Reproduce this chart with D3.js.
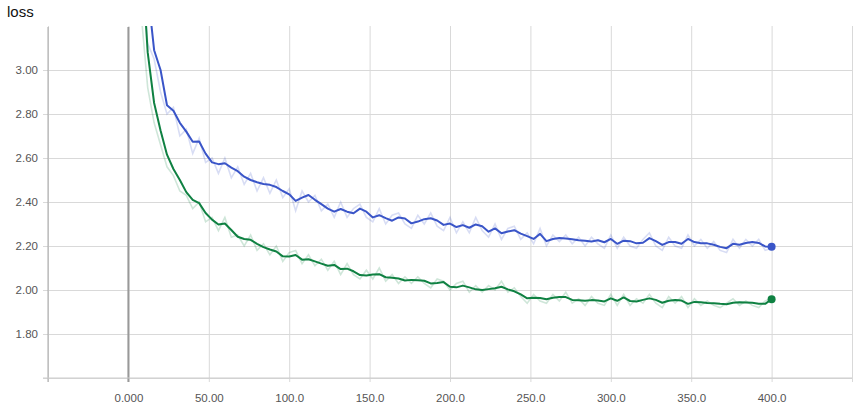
<!DOCTYPE html>
<html><head><meta charset="utf-8">
<script src="https://cdn.jsdelivr.net/npm/d3@7"></script>
<style>
body{margin:0;background:#fff;}
svg{display:block;font-family:"Liberation Sans",Arial,Helvetica,sans-serif;}
</style></head>
<body><svg id="chart" width="863" height="404"></svg>
<script>
const title = "loss";
const steps = [4,8,12,16,20,24,28,32,36,40,44,48,52,56,60,64,68,72,76,80,84,88,92,96,100,104,108,112,116,120,124,128,132,136,140,144,148,152,156,160,164,168,172,176,180,184,188,192,196,200,204,208,212,216,220,224,228,232,236,240,244,248,252,256,260,264,268,272,276,280,284,288,292,296,300,304,308,312,316,320,324,328,332,336,340,344,348,352,356,360,364,368,372,376,380,384,388,392,396,400];
const blueSmooth = [4.60,3.85,3.36,3.09,3.00,2.84,2.815,2.76,2.72,2.674,2.675,2.62,2.58,2.572,2.576,2.556,2.54,2.515,2.50,2.49,2.482,2.478,2.468,2.45,2.435,2.405,2.42,2.432,2.41,2.39,2.37,2.356,2.368,2.356,2.349,2.37,2.356,2.33,2.34,2.327,2.315,2.33,2.325,2.303,2.311,2.322,2.326,2.316,2.296,2.302,2.286,2.295,2.283,2.298,2.29,2.265,2.28,2.258,2.266,2.272,2.256,2.245,2.232,2.255,2.222,2.232,2.236,2.234,2.231,2.226,2.224,2.22,2.226,2.217,2.232,2.21,2.224,2.222,2.212,2.215,2.236,2.222,2.205,2.218,2.218,2.21,2.232,2.218,2.213,2.212,2.206,2.196,2.19,2.21,2.206,2.214,2.218,2.214,2.198,2.197];
const blueRaw = [4.3,3.5,3.12,3.05,2.90,2.80,2.83,2.70,2.73,2.62,2.69,2.58,2.60,2.53,2.60,2.51,2.56,2.48,2.53,2.45,2.51,2.44,2.50,2.42,2.46,2.36,2.45,2.40,2.43,2.36,2.39,2.33,2.40,2.33,2.37,2.39,2.33,2.31,2.37,2.30,2.34,2.35,2.30,2.28,2.34,2.30,2.35,2.29,2.27,2.33,2.26,2.31,2.26,2.33,2.27,2.24,2.30,2.23,2.28,2.29,2.23,2.26,2.21,2.28,2.20,2.25,2.22,2.25,2.21,2.24,2.20,2.24,2.21,2.19,2.25,2.19,2.24,2.20,2.19,2.23,2.26,2.20,2.18,2.24,2.20,2.19,2.25,2.20,2.23,2.19,2.22,2.18,2.17,2.23,2.19,2.23,2.20,2.23,2.18,2.19];
const greenSmooth = [4.40,3.55,3.08,2.85,2.725,2.615,2.55,2.50,2.445,2.41,2.395,2.35,2.32,2.298,2.302,2.273,2.242,2.232,2.228,2.21,2.195,2.184,2.175,2.153,2.152,2.159,2.138,2.14,2.13,2.12,2.11,2.114,2.095,2.097,2.085,2.068,2.066,2.07,2.072,2.058,2.056,2.052,2.043,2.046,2.044,2.042,2.03,2.032,2.036,2.015,2.012,2.02,2.012,2.003,2.0,2.004,2.008,2.015,2.003,1.994,1.98,1.962,1.965,1.964,1.958,1.965,1.968,1.968,1.955,1.953,1.951,1.954,1.952,1.948,1.962,1.951,1.966,1.95,1.948,1.955,1.962,1.955,1.942,1.951,1.955,1.952,1.937,1.946,1.944,1.941,1.94,1.937,1.935,1.942,1.944,1.943,1.942,1.938,1.937,1.958];
const greenRaw = [4.1,3.25,2.92,2.76,2.66,2.56,2.52,2.45,2.43,2.37,2.40,2.31,2.33,2.27,2.33,2.24,2.25,2.20,2.25,2.18,2.21,2.16,2.20,2.13,2.17,2.18,2.12,2.16,2.11,2.14,2.09,2.13,2.07,2.12,2.07,2.05,2.09,2.05,2.10,2.04,2.07,2.03,2.06,2.03,2.06,2.03,2.01,2.05,2.04,2.00,2.03,2.04,1.99,2.02,1.99,2.02,2.00,2.04,1.99,2.01,1.97,1.94,1.98,1.95,1.94,1.98,1.95,1.99,1.94,1.96,1.93,1.97,1.94,1.93,1.98,1.93,1.98,1.93,1.96,1.94,1.98,1.94,1.92,1.97,1.94,1.97,1.92,1.96,1.93,1.95,1.93,1.92,1.94,1.96,1.93,1.95,1.93,1.92,1.95,1.96];
const xTicks = [-50,0,50,100,150,200,250,300,350,400,450];
const xTickLabels = ["","0.000","50.00","100.0","150.0","200.0","250.0","300.0","350.0","400.0",""];
const yTicks = [1.6,1.8,2.0,2.2,2.4,2.6,2.8,3.0];
const yTickLabels = ["","1.80","2.00","2.20","2.40","2.60","2.80","3.00"];

const blueColor = "#3a55c8", greenColor = "#0f8142";
const L = 48, R = 852, T = 26, B = 378;
const svg = d3.select("#chart");
const x = d3.scaleLinear().domain([-50,450]).range([L,R]);
const y = d3.scaleLinear().domain([1.6,3.2]).range([B,T]);

svg.append("text").attr("x",7).attr("y",17).attr("font-size",15).attr("fill","#111").text(title);

const gx = svg.append("g").attr("transform",`translate(0,${B})`)
  .call(d3.axisBottom(x).tickValues(xTicks).tickSize(-(B-T)).tickSizeOuter(0)
    .tickFormat((d,i)=>xTickLabels[i]));
gx.select(".domain").remove();
gx.selectAll(".tick line").attr("stroke","#d9d9d9").attr("y2",-(B-T)).attr("y1",4);
gx.selectAll(".tick text").attr("y",16).attr("font-size",11.5).attr("fill","#555").attr("font-family","Liberation Sans, Arial, sans-serif");

const gy = svg.append("g").attr("transform",`translate(${L},0)`)
  .call(d3.axisLeft(y).tickValues(yTicks).tickSize(-(R-L)).tickSizeOuter(0)
    .tickFormat((d,i)=>yTickLabels[i]));
gy.select(".domain").remove();
gy.selectAll(".tick line").attr("stroke","#d9d9d9").attr("x1",-5);
gy.selectAll(".tick text").attr("x",-10).attr("font-size",11.5).attr("fill","#555").attr("font-family","Liberation Sans, Arial, sans-serif");

svg.append("line").attr("x1",x(-50)).attr("x2",x(-50)).attr("y1",T+1).attr("y2",B+4).attr("stroke","#a8a8a8").attr("stroke-width",1);
svg.append("line").attr("x1",x(0)).attr("x2",x(0)).attr("y1",T+1).attr("y2",B+4).attr("stroke","#999").attr("stroke-width",2);
svg.append("line").attr("x1",L-5).attr("x2",R).attr("y1",B).attr("y2",B).attr("stroke","#ccc");

svg.append("clipPath").attr("id","clip").append("rect").attr("x",L).attr("y",T).attr("width",R-L).attr("height",B-T);
const plot = svg.append("g").attr("clip-path","url(#clip)");
const line = d3.line().x((d,i)=>x(steps[i])).y(d=>y(d));

plot.append("path").attr("d",line(greenRaw)).attr("fill","none").attr("stroke",greenColor).attr("stroke-opacity",0.2).attr("stroke-width",1.6);
plot.append("path").attr("d",line(blueRaw)).attr("fill","none").attr("stroke",blueColor).attr("stroke-opacity",0.2).attr("stroke-width",1.6);
plot.append("path").attr("d",line(greenSmooth)).attr("fill","none").attr("stroke",greenColor).attr("stroke-width",2).attr("stroke-linejoin","round");
plot.append("path").attr("d",line(blueSmooth)).attr("fill","none").attr("stroke",blueColor).attr("stroke-width",2).attr("stroke-linejoin","round");

const n = steps.length-1;
svg.append("circle").attr("cx",x(steps[n])).attr("cy",y(blueSmooth[n])).attr("r",4).attr("fill",blueColor);
svg.append("circle").attr("cx",x(steps[n])).attr("cy",y(greenSmooth[n])).attr("r",4).attr("fill",greenColor);
</script></body></html>
